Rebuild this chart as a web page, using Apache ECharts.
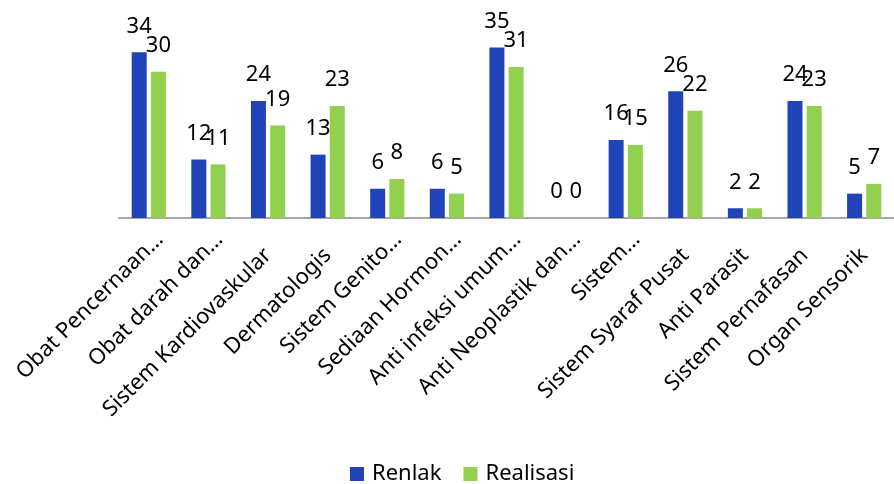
<!DOCTYPE html>
<html>
<head>
<meta charset="utf-8">
<script src="https://cdn.jsdelivr.net/npm/echarts@6/dist/echarts.min.js"></script>
<style>
html,body{margin:0;padding:0;background:#fff;}
#c{width:894px;height:484px;}
</style>
</head>
<body>
<div id="c"></div>
<script>
const categories = [
  'Obat Pencernaan…', 'Obat darah dan…', 'Sistem Kardiovaskular', 'Dermatologis',
  'Sistem Genito…', 'Sediaan Hormon…', 'Anti infeksi umum…', 'Anti Neoplastik dan…',
  'Sistem…', 'Sistem Syaraf Pusat', 'Anti Parasit', 'Sistem Pernafasan', 'Organ Sensorik'
];
const renlak = [34, 12, 24, 13, 6, 6, 35, 0, 16, 26, 2, 24, 5];
const realisasi = [30, 11, 19, 23, 8, 5, 31, 0, 15, 22, 2, 23, 7];
const seriesNames = ['Renlak', 'Realisasi'];

const FONT = 'Noto Sans';

const chart = echarts.init(document.getElementById('c'), null, { renderer: 'canvas' });
chart.setOption({
  animation: false,
  backgroundColor: '#fff',
  textStyle: { fontFamily: FONT },
  grid: { left: 119, right: 0, top: 23, bottom: 266, containLabel: false },
  legend: {
    data: seriesNames,
    left: 345,
    top: 458,
    itemWidth: 14,
    itemHeight: 14,
    itemGap: 22,
    icon: 'rect',
    textStyle: { fontFamily: FONT, fontSize: 22, color: '#000', padding: [0, 0, 0, 3] }
  },
  xAxis: {
    type: 'category',
    data: categories,
    axisLine: { show: true, lineStyle: { color: '#a6a6a6', width: 2 } },
    axisTick: { show: false },
    axisLabel: {
      interval: 0,
      rotate: 45,
      margin: 7,
      fontFamily: FONT,
      fontSize: 22,
      color: '#000',
      formatter: function (v) {
        return (v.endsWith('…') ? '{t|' : '{n|') + v + '}';
      },
      rich: {
        t: { fontFamily: FONT, fontSize: 22, color: '#000', padding: [31, 0, 0, 0] },
        n: { fontFamily: FONT, fontSize: 22, color: '#000', padding: [38, 19, 0, 0] }
      }
    }
  },
  yAxis: {
    type: 'value',
    min: 0,
    max: 40,
    show: false,
    splitLine: { show: false }
  },
  series: [
    {
      name: seriesNames[0],
      type: 'bar',
      data: renlak,
      barWidth: 15,
      barGap: '28%',
      itemStyle: { color: '#2043B8' },
      label: { show: true, position: 'top', distance: 15, fontFamily: FONT, fontSize: 22, color: '#000' }
    },
    {
      name: seriesNames[1],
      type: 'bar',
      data: realisasi,
      barWidth: 15,
      itemStyle: { color: '#92D050' },
      label: { show: true, position: 'top', distance: 15, fontFamily: FONT, fontSize: 22, color: '#000' }
    }
  ]
});
</script>
</body>
</html>
